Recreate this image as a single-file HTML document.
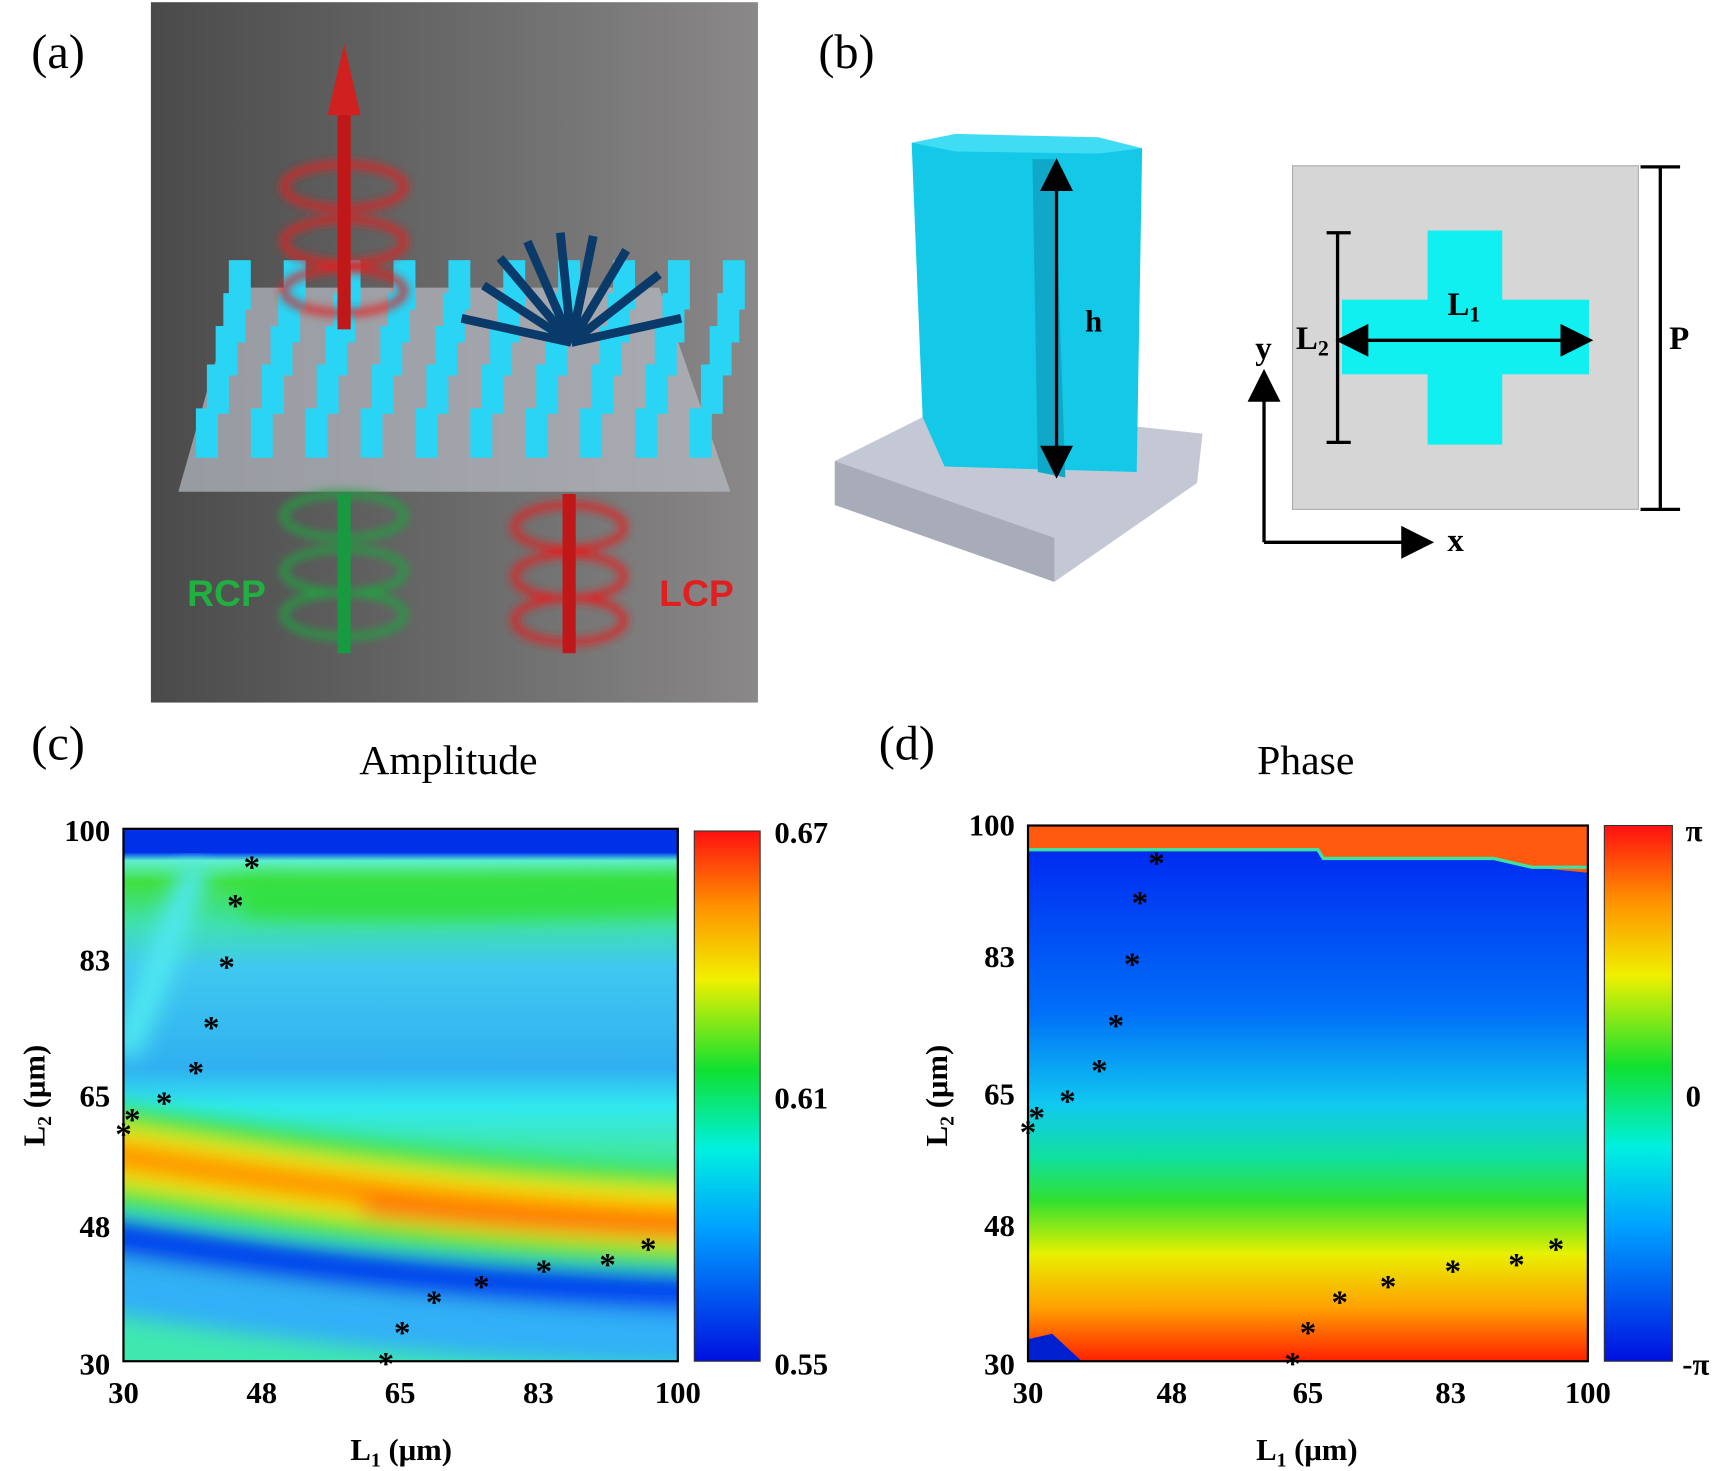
<!DOCTYPE html>
<html><head><meta charset="utf-8"><style>html,body{margin:0;padding:0;background:#fff;}svg{display:block}</style></head><body>
<svg width="1719" height="1471" viewBox="0 0 1565 1340" xmlns="http://www.w3.org/2000/svg" font-family="Liberation Serif, serif">
<defs>
<linearGradient id="bg" x1="0" x2="1"><stop offset="0" stop-color="#4a4a4a"/><stop offset="1" stop-color="#8a8888"/></linearGradient>
<linearGradient id="jet" x1="0" y1="1" x2="0" y2="0"><stop offset="0" stop-color="#0010e0"/><stop offset="0.25" stop-color="#00a0ff"/><stop offset="0.4" stop-color="#00f0e0"/><stop offset="0.55" stop-color="#10e030"/><stop offset="0.72" stop-color="#f0f000"/><stop offset="0.86" stop-color="#ff9000"/><stop offset="1" stop-color="#ff1010"/></linearGradient>
<linearGradient id="amp" x1="0" y1="0" x2="0" y2="1">
<stop offset="0" stop-color="#0030e8"/><stop offset="0.045" stop-color="#0040f0"/><stop offset="0.06" stop-color="#60f0d0"/><stop offset="0.1" stop-color="#40e040"/><stop offset="0.18" stop-color="#40e0b0"/><stop offset="0.26" stop-color="#40c8f0"/><stop offset="0.45" stop-color="#30b0f0"/><stop offset="0.52" stop-color="#30e8f0"/><stop offset="0.6" stop-color="#40e8b0"/><stop offset="1" stop-color="#40e8b0"/></linearGradient>
<linearGradient id="ph" x1="0" y1="0" x2="0" y2="1">
<stop offset="0" stop-color="#0020f0"/><stop offset="0.35" stop-color="#0070f8"/><stop offset="0.52" stop-color="#10c8f0"/><stop offset="0.62" stop-color="#10e0a0"/><stop offset="0.7" stop-color="#30e030"/><stop offset="0.8" stop-color="#e8f000"/><stop offset="0.9" stop-color="#ffa000"/><stop offset="1" stop-color="#ff2000"/></linearGradient>
<filter id="bl"><feGaussianBlur stdDeviation="10"/></filter>
<filter id="bl2"><feGaussianBlur stdDeviation="6"/></filter>
<filter id="glow"><feGaussianBlur stdDeviation="4"/></filter>
<clipPath id="cc"><rect x="112" y="755" width="505" height="485"/></clipPath>
<clipPath id="cd"><rect x="936" y="752" width="510" height="488"/></clipPath>
<marker id="ah" markerWidth="10" markerHeight="10" refX="8" refY="5" orient="auto-start-reverse"><path d="M0,0 L10,5 L0,10z" fill="#000"/></marker>
</defs>
<!-- panel a -->
<rect x="137" y="2" width="553" height="638" fill="url(#bg)"/>
<polygon points="215,262 600,262 665,448 162,448" fill="#b8bcc4" opacity="0.7"/>
<g fill="#2ad4f4">
<g id="row"><rect x="178" y="372" width="20" height="45"/><rect x="228" y="372" width="20" height="45"/><rect x="278" y="372" width="20" height="45"/><rect x="328" y="372" width="20" height="45"/><rect x="378" y="372" width="20" height="45"/><rect x="428" y="372" width="20" height="45"/><rect x="478" y="372" width="20" height="45"/><rect x="528" y="372" width="20" height="45"/><rect x="578" y="372" width="20" height="45"/><rect x="628" y="372" width="20" height="45"/></g>
<use href="#row" transform="translate(10,-40)"/><use href="#row" transform="translate(18,-75)"/><use href="#row" transform="translate(25,-105)"/><use href="#row" transform="translate(30,-135)"/>
</g>
<g filter="url(#glow)" fill="none" stroke-width="6">
<ellipse cx="313" cy="170" rx="55" ry="20" stroke="#e02020"/><ellipse cx="313" cy="220" rx="55" ry="20" stroke="#e02020"/><ellipse cx="313" cy="265" rx="55" ry="20" stroke="#e02020"/>
<ellipse cx="313" cy="470" rx="55" ry="20" stroke="#20a040"/><ellipse cx="313" cy="520" rx="55" ry="20" stroke="#20a040"/><ellipse cx="313" cy="560" rx="55" ry="20" stroke="#20a040"/>
<ellipse cx="518" cy="480" rx="50" ry="20" stroke="#e02020"/><ellipse cx="518" cy="525" rx="50" ry="20" stroke="#e02020"/><ellipse cx="518" cy="565" rx="50" ry="20" stroke="#e02020"/>
</g>
<rect x="307" y="100" width="12" height="200" fill="#c01818"/><polygon points="298,105 313,40 328,105" fill="#d02020"/>
<rect x="307" y="450" width="12" height="145" fill="#1a9a40"/><rect x="512" y="450" width="12" height="145" fill="#c01818"/>
<g stroke="#0a3a6a" stroke-width="8"><path d="M520,312 L455,235 M520,312 L480,220 M520,312 L510,212 M520,312 L540,215 M520,312 L570,228 M520,312 L600,250 M520,312 L620,290 M520,312 L420,290 M520,312 L440,260"/></g>
<text x="170" y="552" font-family="Liberation Sans, sans-serif" font-weight="bold" font-size="34" fill="#20b040">RCP</text>
<text x="600" y="552" font-family="Liberation Sans, sans-serif" font-weight="bold" font-size="34" fill="#e02020">LCP</text>
<text x="28" y="62" font-size="44">(a)</text><text x="745" y="62" font-size="44">(b)</text>
<text x="28" y="692" font-size="44">(c)</text><text x="800" y="692" font-size="44">(d)</text>
<!-- panel b 3d -->
<polygon points="760,420 860,370 1095,395 1090,440 960,530 760,460" fill="#c4c8d4"/>
<polygon points="760,420 960,490 960,530 760,460" fill="#a8acb8"/>
<polygon points="830,130 1040,135 1035,430 860,425 840,380" fill="#14c8e8"/>
<polygon points="830,130 870,122 1000,125 1040,135 1000,140 870,138" fill="#40dcf4"/>
<polygon points="940,145 960,145 970,435 945,430" fill="#10a8c8"/>
<line x1="962" y1="150" x2="962" y2="430" stroke="#000" stroke-width="3" marker-start="url(#ah)" marker-end="url(#ah)"/>
<text x="988" y="302" font-size="28" font-weight="bold">h</text>
<rect x="1177" y="151" width="315" height="313" fill="#d6d6d6" stroke="#aaa"/>
<rect x="1300" y="210" width="68" height="195" fill="#10f0f0"/><rect x="1222" y="273" width="225" height="68" fill="#10f0f0"/>
<line x1="1222" y1="310" x2="1445" y2="310" stroke="#000" stroke-width="3" marker-start="url(#ah)" marker-end="url(#ah)"/>
<line x1="1218" y1="212" x2="1218" y2="403" stroke="#000" stroke-width="3"/><line x1="1208" y1="212" x2="1230" y2="212" stroke="#000" stroke-width="3"/><line x1="1208" y1="403" x2="1230" y2="403" stroke="#000" stroke-width="3"/>
<line x1="1512" y1="152" x2="1512" y2="464" stroke="#000" stroke-width="3"/><line x1="1494" y1="152" x2="1530" y2="152" stroke="#000" stroke-width="3"/><line x1="1494" y1="464" x2="1530" y2="464" stroke="#000" stroke-width="3"/>
<line x1="1151" y1="494" x2="1151" y2="342" stroke="#000" stroke-width="3" marker-end="url(#ah)"/><line x1="1151" y1="494" x2="1300" y2="494" stroke="#000" stroke-width="3" marker-end="url(#ah)"/>
<g font-weight="bold" font-size="30"><text x="1318" y="287">L<tspan font-size="20" dy="6">1</tspan></text><text x="1180" y="318">L<tspan font-size="20" dy="6">2</tspan></text><text x="1520" y="318">P</text><text x="1143" y="327">y</text><text x="1318" y="502">x</text></g>
<!-- panel c -->
<text x="408" y="705" font-size="38" text-anchor="middle">Amplitude</text>
<g clip-path="url(#cc)">
<rect x="112" y="755" width="505" height="485" fill="url(#amp)"/>
<g filter="url(#bl)" fill="none">
<path d="M90,1170 C250,1195 400,1215 640,1220" stroke="#30b0f8" stroke-width="50"/>
<path d="M90,1050 C250,1075 400,1100 640,1110" stroke="#30e040" stroke-width="90"/>
<path d="M90,1050 C250,1075 400,1100 640,1110" stroke="#f0f000" stroke-width="55"/>
<path d="M90,1050 C250,1075 400,1100 640,1112" stroke="#ff9000" stroke-width="28"/>
<path d="M330,1100 C420,1110 520,1118 640,1122" stroke="#ff4010" stroke-width="12"/>
<path d="M90,1125 C250,1150 400,1170 640,1178" stroke="#0040f0" stroke-width="34"/>
<path d="M180,790 C160,830 140,900 112,960" stroke="#50e8f0" stroke-width="26"/>
<path d="M220,818 C350,822 450,820 630,815" stroke="#30e040" stroke-width="34"/>
</g>
<path d="M90,1240 L400,1250" stroke="#40e080" stroke-width="30" filter="url(#bl2)"/>
<rect x="112" y="755" width="505" height="22" fill="#0030e8"/>
</g>
<rect x="112" y="755" width="505" height="485" fill="none" stroke="#000" stroke-width="2"/>
<rect x="632" y="757" width="60" height="483" fill="url(#jet)" stroke="#333"/>
<g font-weight="bold" font-size="28">
<text x="100" y="766" text-anchor="end">100</text><text x="100" y="884" text-anchor="end">83</text><text x="100" y="1008" text-anchor="end">65</text><text x="100" y="1127" text-anchor="end">48</text><text x="100" y="1252" text-anchor="end">30</text>
<text x="112" y="1278" text-anchor="middle">30</text><text x="238" y="1278" text-anchor="middle">48</text><text x="364" y="1278" text-anchor="middle">65</text><text x="490" y="1278" text-anchor="middle">83</text><text x="617" y="1278" text-anchor="middle">100</text>
<text x="705" y="768">0.67</text><text x="705" y="1010">0.61</text><text x="705" y="1252">0.55</text>
<text x="365" y="1330" text-anchor="middle">L<tspan font-size="18" dy="6">1</tspan><tspan dy="-6"> (μm)</tspan></text>
<text transform="translate(40,998) rotate(-90)" text-anchor="middle">L<tspan font-size="18" dy="6">2</tspan><tspan dy="-6"> (μm)</tspan></text>
</g>
<g font-size="30" font-weight="bold" text-anchor="middle">
<text x="229" y="800">*</text><text x="214" y="835">*</text><text x="206" y="891">*</text><text x="192" y="946">*</text><text x="178" y="987">*</text><text x="149" y="1015">*</text><text x="120" y="1030">*</text><text x="112" y="1043">*</text>
<text x="590" y="1148">*</text><text x="553" y="1162">*</text><text x="495" y="1168">*</text><text x="438" y="1182">*</text><text x="395" y="1196">*</text><text x="366" y="1224">*</text><text x="351" y="1252">*</text>
</g>
<!-- panel d -->
<text x="1189" y="705" font-size="38" text-anchor="middle">Phase</text>
<g clip-path="url(#cd)">
<rect x="936" y="752" width="510" height="488" fill="url(#ph)"/>
<path d="M936,752 H1446 V795 L1395,790 L1360,782 L1205,782 L1200,774 L936,774 Z" fill="#ff5a10"/>
<path d="M936,774 L1200,774 L1205,782 L1360,782 L1395,790 L1446,790" fill="none" stroke="#40e0a0" stroke-width="3"/>
<path d="M936,1220 L958,1215 L985,1240 L936,1240 Z" fill="#0020d0"/>
</g>
<rect x="936" y="752" width="510" height="488" fill="none" stroke="#000" stroke-width="2"/>
<rect x="1461" y="752" width="62" height="488" fill="url(#jet)" stroke="#333"/>
<g font-weight="bold" font-size="28">
<text x="924" y="761" text-anchor="end">100</text><text x="924" y="881" text-anchor="end">83</text><text x="924" y="1006" text-anchor="end">65</text><text x="924" y="1126" text-anchor="end">48</text><text x="924" y="1252" text-anchor="end">30</text>
<text x="936" y="1278" text-anchor="middle">30</text><text x="1067" y="1278" text-anchor="middle">48</text><text x="1191" y="1278" text-anchor="middle">65</text><text x="1321" y="1278" text-anchor="middle">83</text><text x="1446" y="1278" text-anchor="middle">100</text>
<text x="1535" y="766">π</text><text x="1535" y="1008">0</text><text x="1532" y="1252">-π</text>
<text x="1190" y="1330" text-anchor="middle">L<tspan font-size="18" dy="6">1</tspan><tspan dy="-6"> (μm)</tspan></text>
<text transform="translate(862,998) rotate(-90)" text-anchor="middle">L<tspan font-size="18" dy="6">2</tspan><tspan dy="-6"> (μm)</tspan></text>
</g>
<g font-size="30" font-weight="bold" text-anchor="middle">
<text x="1053" y="796">*</text><text x="1038" y="832">*</text><text x="1031" y="888">*</text><text x="1016" y="944">*</text><text x="1001" y="985">*</text><text x="972" y="1013">*</text><text x="944" y="1028">*</text><text x="936" y="1041">*</text>
<text x="1417" y="1148">*</text><text x="1381" y="1162">*</text><text x="1323" y="1168">*</text><text x="1264" y="1182">*</text><text x="1220" y="1196">*</text><text x="1191" y="1224">*</text><text x="1177" y="1252">*</text>
</g>
</svg>
</body></html>
